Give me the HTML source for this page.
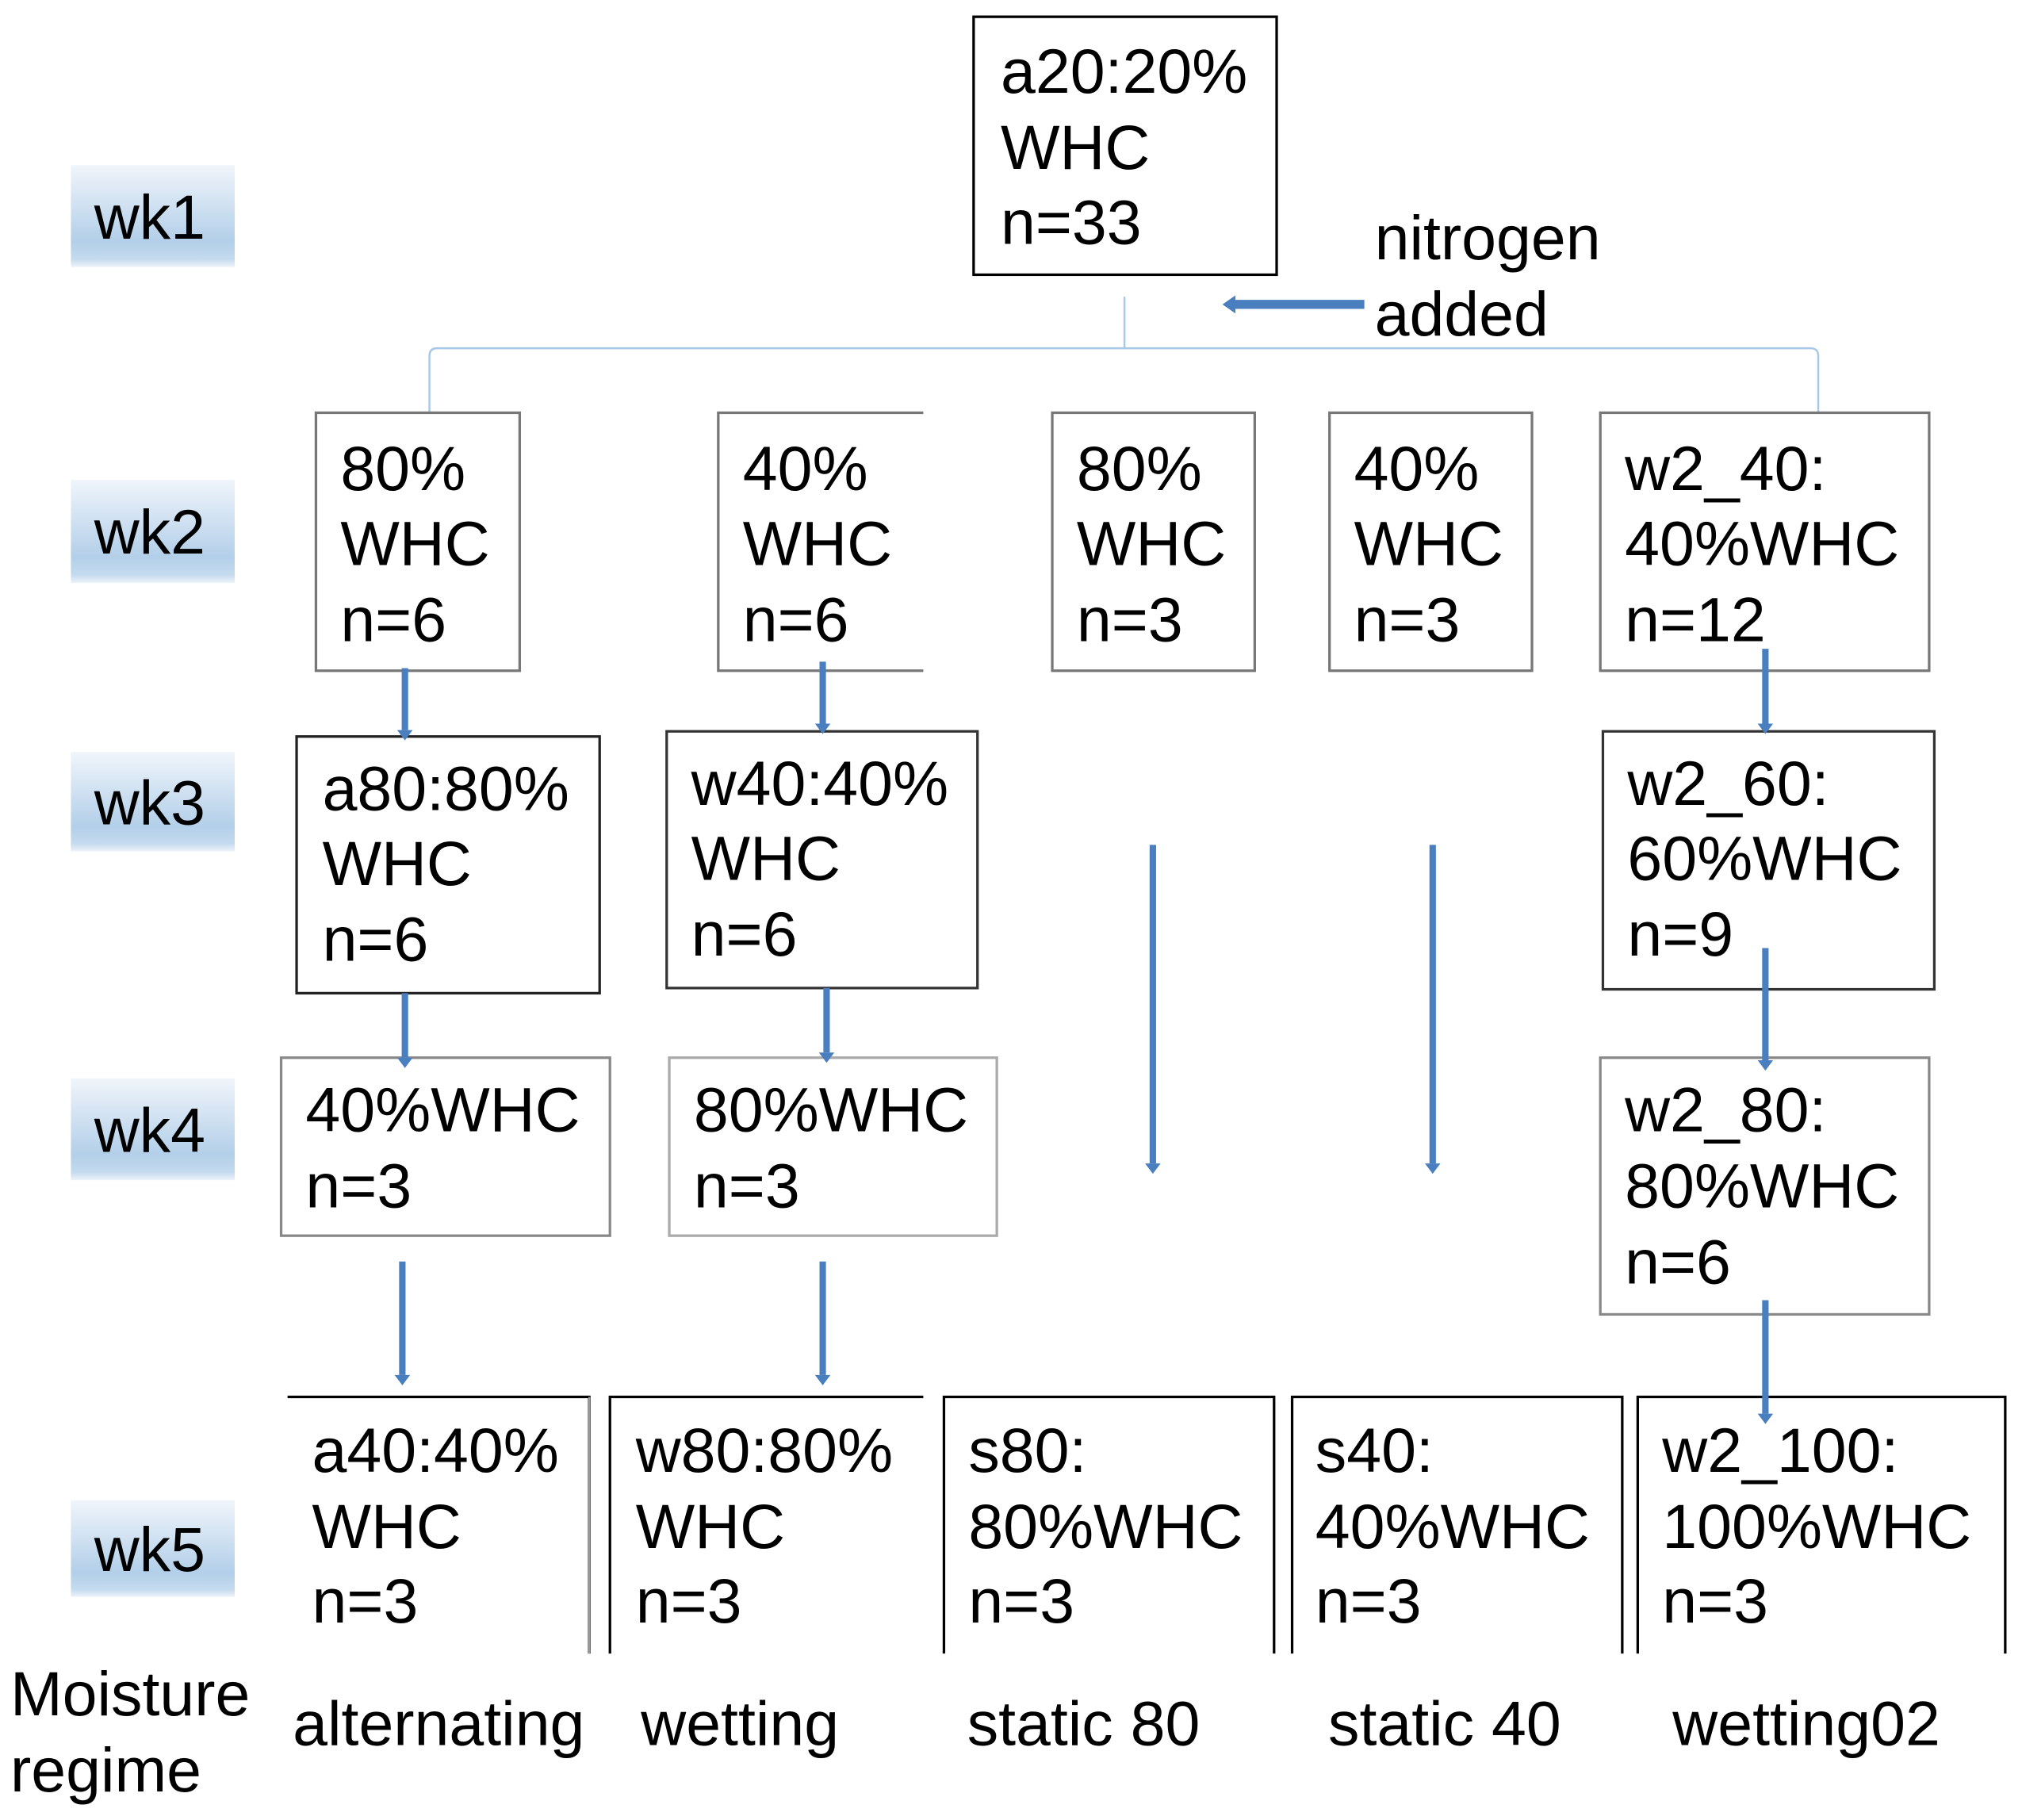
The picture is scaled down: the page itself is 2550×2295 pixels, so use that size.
<!DOCTYPE html>
<html><head><meta charset="utf-8"><style>
html,body{margin:0;padding:0;background:#fff;}
svg{display:block;}
text{font-family:"Liberation Sans",Arial,sans-serif;font-size:48.5px;fill:#000;}
</style></head><body>
<svg width="2550" height="2295" viewBox="0 0 1568 1411" preserveAspectRatio="none" xmlns="http://www.w3.org/2000/svg">
<defs>
<linearGradient id="g" x1="0" y1="0" x2="0" y2="1">
<stop offset="0" stop-color="#f0f5fb"/>
<stop offset="0.75" stop-color="#b3cfe9"/>
<stop offset="0.92" stop-color="#c4daee"/>
<stop offset="1" stop-color="#edf3fa"/>
</linearGradient>
</defs>
<g>
<rect x="55" y="128" width="127" height="79" fill="url(#g)"/><text x="73" y="185">wk1</text>
<rect x="55" y="372" width="127" height="80" fill="url(#g)"/><text x="73" y="429">wk2</text>
<rect x="55" y="583" width="127" height="77" fill="url(#g)"/><text x="73" y="639">wk3</text>
<rect x="55" y="836" width="127" height="79" fill="url(#g)"/><text x="73" y="893">wk4</text>
<rect x="55" y="1163" width="127" height="75" fill="url(#g)"/><text x="73" y="1218">wk5</text>
</g>
<rect x="755" y="13" width="235" height="200" fill="none" stroke="#000" stroke-width="2"/>
<text x="776" y="72">a20:20%</text><text x="776" y="131">WHC</text><text x="776" y="189">n=33</text>
<text x="1066" y="201">nitrogen</text><text x="1066" y="260">added</text>
<line x1="1058" y1="236" x2="956" y2="236" stroke="#4a7fbf" stroke-width="7"/>
<polygon points="948,236 958,229 958,243" fill="#4a7fbf"/>
<path d="M872 230 V270 M333 320 V276 Q333 270 339 270 H1404 Q1410 270 1410 276 V320" fill="none" stroke="#a8c8e8" stroke-width="1.5"/>
<g fill="none" stroke="#777" stroke-width="2">
<rect x="245" y="320" width="158" height="200"/>
<path d="M716 320 H557 V520 H716"/>
<rect x="816" y="320" width="157" height="200"/>
<rect x="1031" y="320" width="157" height="200"/>
<rect x="1241" y="320" width="255" height="200"/>
</g>
<text x="264" y="380">80%</text><text x="264" y="438">WHC</text><text x="264" y="497">n=6</text>
<text x="576" y="380">40%</text><text x="576" y="438">WHC</text><text x="576" y="497">n=6</text>
<text x="835" y="380">80%</text><text x="835" y="438">WHC</text><text x="835" y="497">n=3</text>
<text x="1050" y="380">40%</text><text x="1050" y="438">WHC</text><text x="1050" y="497">n=3</text>
<text x="1260" y="380">w2_40:</text><text x="1260" y="438">40%WHC</text><text x="1260" y="497">n=12</text>
<g fill="none" stroke-width="2">
<rect x="230" y="571" width="235" height="199" stroke="#222"/>
<rect x="517" y="567" width="241" height="199" stroke="#333"/>
<rect x="1243" y="567" width="257" height="200" stroke="#333"/>
</g>
<text x="250" y="628">a80:80%</text><text x="250" y="686">WHC</text><text x="250" y="745">n=6</text>
<text x="536" y="624">w40:40%</text><text x="536" y="682">WHC</text><text x="536" y="741">n=6</text>
<text x="1262" y="624">w2_60:</text><text x="1262" y="682">60%WHC</text><text x="1262" y="741">n=9</text>
<g fill="none" stroke="#888" stroke-width="2">
<rect x="218" y="820" width="255" height="138"/>
<rect x="519" y="820" width="254" height="138" stroke="#aaa"/>
<rect x="1241" y="820" width="255" height="199"/>
</g>
<text x="237" y="877">40%WHC</text><text x="237" y="936">n=3</text>
<text x="538" y="877">80%WHC</text><text x="538" y="936">n=3</text>
<text x="1260" y="877">w2_80:</text><text x="1260" y="936">80%WHC</text><text x="1260" y="995">n=6</text>
<g fill="none" stroke-width="2">
<path d="M223 1083 H457 V1282" stroke="#000"/>
<path d="M473 1282 V1083 H716" stroke="#000"/>
<path d="M732 1282 V1083 H988 V1282" stroke="#000"/>
<path d="M1002 1282 V1083 H1258 V1282" stroke="#000"/>
<path d="M1270 1282 V1083 H1555 V1282" stroke="#000"/>
</g>
<g stroke="#999" stroke-width="1.5"><line x1="457" y1="1083" x2="457" y2="1282"/></g>
<text x="242" y="1141">a40:40%</text><text x="242" y="1200">WHC</text><text x="242" y="1258">n=3</text>
<text x="493" y="1141">w80:80%</text><text x="493" y="1200">WHC</text><text x="493" y="1258">n=3</text>
<text x="751" y="1141">s80:</text><text x="751" y="1200">80%WHC</text><text x="751" y="1258">n=3</text>
<text x="1020" y="1141">s40:</text><text x="1020" y="1200">40%WHC</text><text x="1020" y="1258">n=3</text>
<text x="1289" y="1141">w2_100:</text><text x="1289" y="1200">100%WHC</text><text x="1289" y="1258">n=3</text>
<text x="8" y="1330">Moisture</text><text x="8" y="1389">regime</text>
<text x="227" y="1353">alternating</text>
<text x="497" y="1353">wetting</text>
<text x="750" y="1353">static 80</text>
<text x="1030" y="1353">static 40</text>
<text x="1297" y="1353">wetting02</text>
<g stroke="#4a7fbf" stroke-width="5">
<line x1="314" y1="518" x2="314" y2="566"/>
<line x1="638" y1="513" x2="638" y2="561"/>
<line x1="1369" y1="503" x2="1369" y2="561"/>
<line x1="314" y1="770" x2="314" y2="820"/>
<line x1="641" y1="766" x2="641" y2="816"/>
<line x1="1369" y1="735" x2="1369" y2="822"/>
<line x1="894" y1="655" x2="894" y2="902"/>
<line x1="1111" y1="655" x2="1111" y2="902"/>
<line x1="312" y1="978" x2="312" y2="1066"/>
<line x1="638" y1="978" x2="638" y2="1066"/>
<line x1="1369" y1="1008" x2="1369" y2="1096"/>
</g>
<g fill="#4a7fbf">
<polygon points="308,566 320,566 314,574"/>
<polygon points="632,561 644,561 638,569"/>
<polygon points="1363,561 1375,561 1369,569"/>
<polygon points="308,820 320,820 314,828"/>
<polygon points="635,816 647,816 641,824"/>
<polygon points="1363,822 1375,822 1369,830"/>
<polygon points="888,902 900,902 894,910"/>
<polygon points="1105,902 1117,902 1111,910"/>
<polygon points="306,1066 318,1066 312,1074"/>
<polygon points="632,1066 644,1066 638,1074"/>
<polygon points="1363,1096 1375,1096 1369,1104"/>
</g>
</svg>
</body></html>
